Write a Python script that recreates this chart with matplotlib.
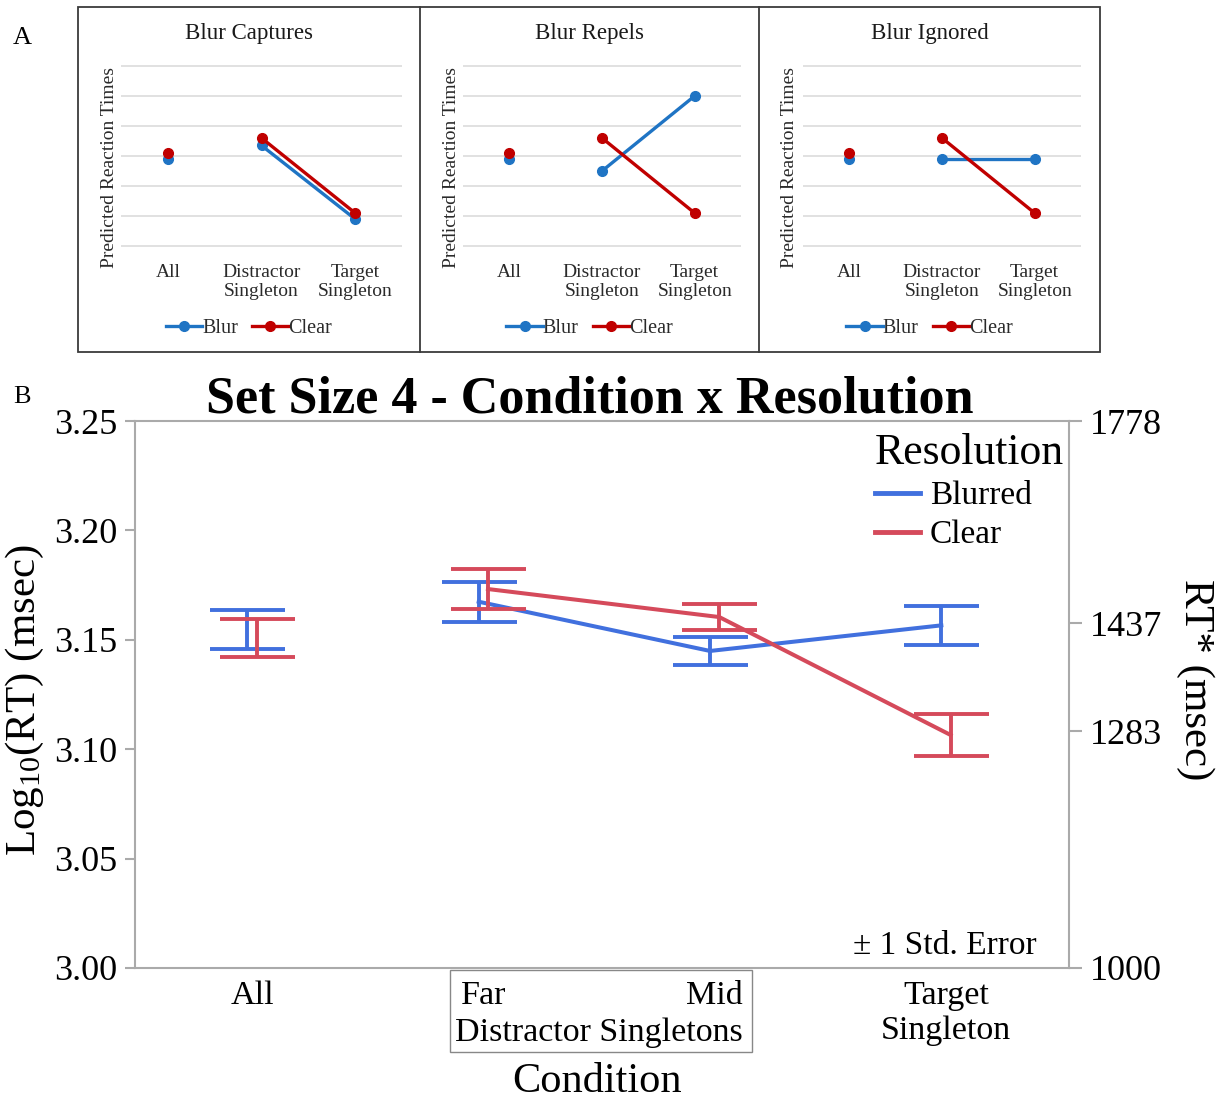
import numpy as np
import matplotlib
matplotlib.use("Agg")
import matplotlib.pyplot as plt
from matplotlib.patches import Rectangle
from matplotlib.transforms import blended_transform_factory

plt.rcParams['font.family'] = ['Liberation Serif', 'DejaVu Serif']
plt.rcParams['mathtext.fontset'] = 'custom'
plt.rcParams['mathtext.rm'] = 'Liberation Serif'
plt.rcParams['mathtext.it'] = 'Liberation Serif:italic'

# --- panel A: predicted patterns (arbitrary units, gridline steps) ---
pred_conditions = ['All', 'Distractor\nSingleton', 'Target\nSingleton']
pred_titles = ['Blur Captures', 'Blur Repels', 'Blur Ignored']
pred_blur = [[2.9, 3.35, 0.9],
             [2.9, 2.5, 5.0],
             [2.9, 2.9, 2.9]]
pred_clear = [[3.1, 3.6, 1.1],
              [3.1, 3.6, 1.1],
              [3.1, 3.6, 1.1]]

# --- panel B: observed log10 RT means and standard errors ---
conditions = ['All', 'Far', 'Mid', 'Target\nSingleton']
blur_mean = [3.1547, 3.1674, 3.1449, 3.1566]
blur_se = [0.0089, 0.0091, 0.0065, 0.0090]
clear_mean = [3.1508, 3.1732, 3.1604, 3.1065]
clear_se = [0.0086, 0.0092, 0.0060, 0.0095]
log_ticks = [3.00, 3.05, 3.10, 3.15, 3.20, 3.25]
rt_ticks = [1000, 1283, 1437, 1778]

W, H = 1225, 1103
fig = plt.figure(figsize=(W / 100, H / 100), dpi=100)


def fx(px):
    return px / W


def fy(py):
    return 1 - py / H


# ---------------- panel A ----------------
a_blue, a_red = '#1F74C4', '#C00000'
boxes = [(78, 420), (420, 759), (759, 1100)]
areas = [(121, 402), (463, 741), (803, 1081)]
ylab_x = [110, 452, 790]

fig.patches.append(Rectangle((fx(78), fy(352)), fx(1100) - fx(78), (352 - 7) / H,
                             transform=fig.transFigure, fill=False,
                             edgecolor='#3a3a3a', lw=1.3))
for xd in (420, 759):
    fig.add_artist(plt.Line2D([fx(xd), fx(xd)], [fy(7), fy(352)],
                              transform=fig.transFigure, color='#3a3a3a', lw=1.3))

for i in range(3):
    x0, x1 = areas[i]
    ax = fig.add_axes([fx(x0), fy(247), (x1 - x0) / W, (247 - 65) / H])
    ax.set_xlim(-0.5, 2.5)
    ax.set_ylim(-0.03, 6.03)
    ax.set_yticks(range(7))
    ax.yaxis.grid(True, color='#D9D9D9', lw=1.1)
    ax.set_axisbelow(True)
    for s in ax.spines.values():
        s.set_visible(False)
    ax.tick_params(left=False, labelleft=False, bottom=False, pad=9)
    ax.set_xticks(range(3))
    ax.set_xticklabels(pred_conditions, fontsize=14, color='#2a2a2a', linespacing=1.15)

    ax.plot([0], pred_blur[i][:1], 'o', color=a_blue, ms=7)
    hb, = ax.plot([1, 2], pred_blur[i][1:], '-o', color=a_blue, lw=2.4, ms=7, label='Blur')
    ax.plot([0], pred_clear[i][:1], 'o', color=a_red, ms=7)
    hc, = ax.plot([1, 2], pred_clear[i][1:], '-o', color=a_red, lw=2.4, ms=7, label='Clear')

    bc = (boxes[i][0] + boxes[i][1]) / 2
    fig.text(fx(bc), fy(33), pred_titles[i], ha='center', va='center',
             fontsize=16.5, color='#1a1a1a')
    fig.text(fx(ylab_x[i]), fy(168), 'Predicted Reaction Times', rotation=90,
             ha='center', va='center', fontsize=14, color='#2a2a2a')
    ax.legend(handles=[hb, hc], loc='center', bbox_to_anchor=(fx(bc), fy(328)),
              bbox_transform=fig.transFigure, ncol=2, frameon=False, fontsize=14.5,
              handlelength=1.8, handletextpad=0.0, columnspacing=0.7,
              borderpad=0, labelcolor='#2a2a2a')

fig.text(fx(22), fy(38), 'A', ha='center', va='center', fontsize=19)

# ---------------- panel B ----------------
b_blue, b_red = '#4170DE', '#D54A5B'
grey = '#AAAAAA'
axb = fig.add_axes([fx(135), fy(968), 934 / W, 547 / H])
axb.set_xlim(0.494, 4.532)
axb.set_ylim(3.0, 3.25)
x = np.arange(1, 5)
dodge = 0.02

axb.errorbar(x - dodge, blur_mean, yerr=blur_se, fmt='none', ecolor=b_blue,
             elinewidth=2.8, capsize=27, capthick=2.8, zorder=3)
lb, = axb.plot(x[1:] - dodge, blur_mean[1:], color=b_blue, lw=2.9, zorder=3,
               label='Blurred')
axb.errorbar(x + dodge, clear_mean, yerr=clear_se, fmt='none', ecolor=b_red,
             elinewidth=2.8, capsize=27, capthick=2.8, zorder=4)
lc, = axb.plot(x[1:] + dodge, clear_mean[1:], color=b_red, lw=2.9, zorder=4,
               label='Clear')

axb.set_yticks(log_ticks)
axb.set_yticklabels([f'{v:.2f}' for v in log_ticks], fontsize=26)
axb.set_xticks(x)
axb.set_xticklabels(conditions, fontsize=24.5, linespacing=1.2)
axb.tick_params(axis='x', length=0, pad=9)
axb.tick_params(axis='y', length=7, width=1.5, color=grey, pad=6)
axb.spines['right'].set_visible(False)
for s in ('left', 'top', 'bottom'):
    axb.spines[s].set_color(grey)
    axb.spines[s].set_linewidth(1.5)

ax2 = axb.twinx()
ax2.set_ylim(3.0, 3.25)
ax2.set_yticks(np.log10(rt_ticks))
ax2.set_yticklabels([str(v) for v in rt_ticks], fontsize=26)
ax2.tick_params(axis='y', length=9, width=1.5, color=grey, pad=6)
for s in ('left', 'top', 'bottom'):
    ax2.spines[s].set_visible(False)
ax2.spines['right'].set_color(grey)
ax2.spines['right'].set_linewidth(1.5)

# bracket box grouping the two distractor-singleton conditions
tr = blended_transform_factory(axb.transData, axb.transAxes)
axb.add_patch(Rectangle((1.857, -0.1536), 1.303, 0.150, transform=tr, fill=False,
                        edgecolor='#888888', lw=1.0, clip_on=False))
axb.text(2.5, -0.119, 'Distractor Singletons', transform=tr, ha='center',
         va='center', fontsize=24.5)

leg = fig.legend(handles=[lb, lc], loc='upper left', bbox_to_anchor=(fx(858), fy(416)),
                 frameon=False, fontsize=24, title='Resolution', title_fontsize=31.5,
                 alignment='left', handlelength=1.35, handletextpad=0.3,
                 labelspacing=0.25, borderpad=0)
for h in leg.legend_handles:
    h.set_linewidth(3.5)

fig.text(fx(945), fy(946), '\u00b1 1 Std. Error', ha='center', va='center', fontsize=24)
fig.text(fx(590), fy(400), 'Set Size 4 - Condition x Resolution', ha='center',
         va='center', fontsize=37.5, fontweight='bold')
fig.text(fx(25), fy(700), r'Log$_{\mathrm{10}}$(RT) (msec)', rotation=90,
         ha='center', va='center', fontsize=31)
fig.text(fx(1195), fy(680), 'RT* (msec)', rotation=270, ha='center', va='center',
         fontsize=31)
fig.text(fx(597), fy(1082), 'Condition', ha='center', va='center', fontsize=30.5)
fig.text(fx(22), fy(397), 'B', ha='center', va='center', fontsize=19)

fig.savefig('out.png', dpi=100)
